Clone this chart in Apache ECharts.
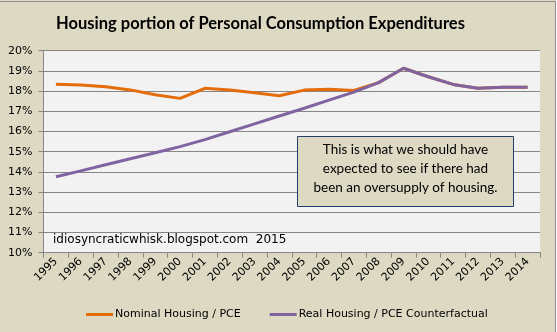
<!DOCTYPE html>
<html>
<head>
<meta charset="utf-8">
<script src="https://cdn.jsdelivr.net/npm/echarts@6/dist/echarts.min.js"></script>
<style>
html,body{margin:0;padding:0;background:#fff;}
#c{width:557px;height:332px;}
</style>
</head>
<body>
<div id="c"></div>
<script>
const years = ['1995','1996','1997','1998','1999','2000','2001','2002','2003','2004','2005','2006','2007','2008','2009','2010','2011','2012','2013','2014'];
const nominal = [18.34,18.30,18.22,18.06,17.82,17.64,18.14,18.06,17.92,17.77,18.05,18.09,18.03,18.42,19.13,18.71,18.33,18.14,18.19,18.19];
const realCounterfactual = [13.76,14.05,14.35,14.65,14.95,15.25,15.60,15.99,16.38,16.77,17.15,17.55,17.95,18.42,19.13,18.71,18.33,18.14,18.19,18.19];
const yMin = 10, yMax = 20, yStep = 1;
const titleText = 'Housing portion of Personal Consumption Expenditures';
const noteLines = ['This is what we should have', 'expected to see if there had', 'been an oversupply of housing.'];
const watermark = 'idiosyncraticwhisk.blogspot.com  2015';

const chart = echarts.init(document.getElementById('c'), null, {renderer:'canvas'});
const axisGray = '#868686';
const labelFont = 'DejaVu Sans';
chart.setOption({
  backgroundColor: '#DDD9C3',
  animation: false,
  legend: {
    left: 81, top: 304,
    itemWidth: 27, itemHeight: 3, itemGap: 29,
    icon: 'rect',
    textStyle: {fontFamily: labelFont, fontSize: 11, color: '#000', padding: [0,0,0,-3]},
    data: ['Nominal Housing / PCE', 'Real Housing / PCE Counterfactual']
  },
  grid: {
    left: 43.5, right: 17, top: 50.7, bottom: 79.3,
    show: true, backgroundColor: '#F2F2F2', borderWidth: 0
  },
  xAxis: {
    type: 'category', data: years, boundaryGap: true,
    axisLine: {show: true, lineStyle: {color: axisGray, width: 1}},
    axisTick: {show: true, length: 5, interval: 0, lineStyle: {color: axisGray}},
    axisLabel: {rotate: 45, interval: 0, margin: 7, fontFamily: labelFont, fontSize: 11, color: '#000'},
    splitLine: {show: false}
  },
  yAxis: {
    type: 'value', min: yMin, max: yMax, interval: yStep,
    axisLine: {show: true, lineStyle: {color: axisGray, width: 1}},
    axisTick: {show: true, length: 5, lineStyle: {color: axisGray}},
    axisLabel: {formatter: '{value}%', margin: 11, fontFamily: labelFont, fontSize: 11, color: '#000'},
    splitLine: {show: true, lineStyle: {color: axisGray, width: 1}}
  },
  series: [
    {
      name: 'Nominal Housing / PCE', type: 'line', data: nominal,
      showSymbol: false, symbol: 'none', smooth: false,
      lineStyle: {color: '#E46C0A', width: 3}, itemStyle: {color: '#E46C0A'}, z: 2
    },
    {
      name: 'Real Housing / PCE Counterfactual', type: 'line', data: realCounterfactual,
      showSymbol: false, symbol: 'none', smooth: false,
      lineStyle: {color: '#8064A2', width: 3}, itemStyle: {color: '#8064A2'}, z: 3
    }
  ],
  graphic: [
    {type: 'rect', left: 556, top: 0, shape: {width: 10, height: 332}, style: {fill: '#fff'}, silent: true},
    {type: 'line', shape: {x1: 0, y1: 1.5, x2: 555.5, y2: 1.5}, style: {stroke: '#8C8C8C', lineWidth: 1}, silent: true},
    {type: 'line', shape: {x1: 555.5, y1: 1.5, x2: 555.5, y2: 332}, style: {stroke: '#8C8C8C', lineWidth: 1}, silent: true},
    {type: 'text', x: 260.5, y: 23.5, z: 101, silent: true,
      style: {text: titleText, fontFamily: 'Lato', fontWeight: 'bold', fontSize: 16.5, fill: '#000', align: 'center', verticalAlign: 'middle'}},
    {type: 'rect', shape: {x: 297.5, y: 136.5, width: 216, height: 70}, style: {fill: '#DDD9C3', stroke: '#1F3F6F', lineWidth: 1}, z: 100, silent: true},
    {type: 'text', x: 405.5, y: 168.5, z: 101, silent: true,
      style: {text: noteLines.join('\n'), fontFamily: 'Lato', fontSize: 13.5, lineHeight: 19, fill: '#000', align: 'center', verticalAlign: 'middle'}},
    {type: 'text', x: 53, y: 240, z: 101, silent: true,
      style: {text: watermark, fontFamily: labelFont, fontSize: 12, fill: '#000', align: 'left', verticalAlign: 'middle'}}
  ]
});
</script>
</body>
</html>
